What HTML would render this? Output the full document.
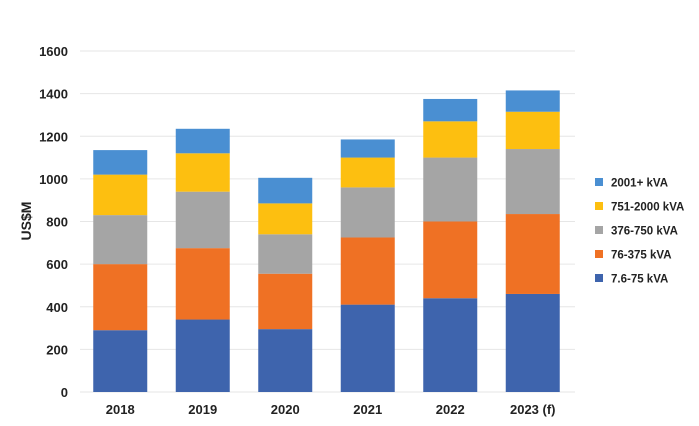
<!DOCTYPE html>
<html><head><meta charset="utf-8"><style>
body{margin:0;background:#fff;}
svg{display:block;font-family:"Liberation Sans",sans-serif;}
</style></head><body>
<svg id="chart" width="699" height="426"></svg>
<script>
const categories=["2018","2019","2020","2021","2022","2023 (f)"];
const seriesNames=["7.6-75 kVA","76-375 kVA","376-750 kVA","751-2000 kVA","2001+ kVA"];
const seriesColors=["#3e64ad","#ef7124","#a5a5a5","#fdbf10","#4a8fd2"];
const s1=[290,340,295,410,440,460];
const s2=[310,335,260,315,360,375];
const s3=[230,265,185,235,300,305];
const s4=[190,180,145,140,170,175];
const s5=[115,115,120,85,105,100];
const series=[s1,s2,s3,s4,s5];
const yTicks=[0,200,400,600,800,1000,1200,1400,1600];
const NS="http://www.w3.org/2000/svg";
const svg=document.getElementById('chart');
const x0=80,x1=575,yBase=392,yTop=51,yMax=1600;
const band=(x1-x0)/categories.length,bw=54;
function y(v){return yBase-(v/yMax)*(yBase-yTop);}
function xc(i){return x0+band*(i+0.5)-1;}
function mk(t,a){const e=document.createElementNS(NS,t);for(const k in a)e.setAttribute(k,a[k]);svg.appendChild(e);return e;}
yTicks.forEach(v=>{
 const l=mk('line',{x1:x0,x2:x1,y1:y(v),y2:y(v),stroke:'#e6e6e6','stroke-width':1});
 
 
 const t=mk('text',{x:68,y:y(v)+5,'text-anchor':'end','font-size':13,'font-weight':'bold',fill:'#222'});
 t.textContent=v;
 
 
});
categories.forEach((c,i)=>{
 let cum=0;
 series.forEach((s,j)=>{
  const r=mk('rect',{x:xc(i)-bw/2,y:y(cum+s[i]),width:bw,height:y(cum)-y(cum+s[i]),fill:seriesColors[j]});
  
  
  cum+=s[i];
 });
 const t=mk('text',{x:xc(i),y:414,'text-anchor':'middle','font-size':13,'font-weight':'bold',fill:'#222'});
 t.textContent=c;
 
 
});
const yt=mk('text',{x:0,y:0,transform:'translate(31,221) rotate(-90)','text-anchor':'middle','font-size':14,'font-weight':'bold',fill:'#222'});
yt.textContent='US$M';


for(let j=seriesNames.length-1,k=0;j>=0;j--,k++){
 const cy=182+k*24;
 const r=mk('rect',{x:595,y:cy-4,width:8,height:8,fill:seriesColors[j]});
 
 
 const t=mk('text',{x:611,y:cy+4.5,'font-size':11.5,'font-weight':'bold',fill:'#222'});
 t.textContent=seriesNames[j];
 
 
}
</script>
</body></html>
